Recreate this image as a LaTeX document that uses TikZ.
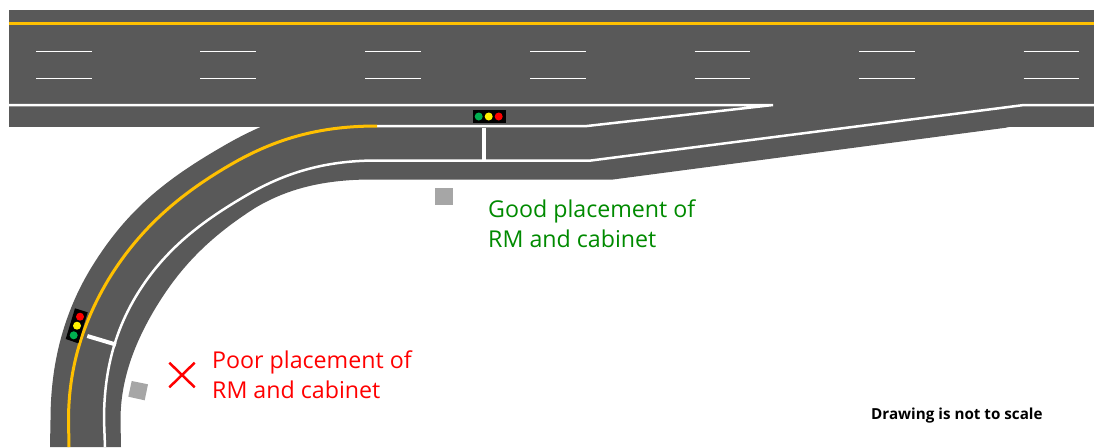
\documentclass[tikz,border=0pt]{standalone}
\usepackage{fontspec}
\setmainfont{Open Sans}
\definecolor{road}{HTML}{595959}
\definecolor{lane}{HTML}{FFC000}
\definecolor{cab}{HTML}{A6A6A6}
\definecolor{goodgreen}{HTML}{008A00}
\definecolor{lampgreen}{HTML}{00B050}
\tikzset{
  roadfill/.style={fill=road},
  yellowline/.style={draw=lane,line width=3pt},
  whiteline/.style={draw=white,line width=2.5pt},
  laneline/.style={draw=white,line width=1pt},
  stopbar/.style={draw=white,line width=4pt},
  cabinet/.style={fill=cab},
  lamp/.style={radius=4pt},
  label/.style={anchor=north west,align=left,inner sep=0pt,font=\fontsize{23.2}{30}\selectfont}
}
\begin{document}
\begin{tikzpicture}[x=1pt,y=-1pt]
\useasboundingbox (0,0) rectangle (1094,447);
% road surface
\fill[roadfill] (8.5,9.5) rectangle (1094,127.3);
\fill[roadfill] (1009,127.3) -- (613,179.5) -- (372,179.5)
  .. controls (328,179.5) and (290,187) .. (255,208)
  .. controls (208,238) and (180,268) .. (156.8,305.9)
  .. controls (131,348) and (120.5,385) .. (120.5,420)
  -- (121,447) -- (50,447) -- (50.5,420)
  .. controls (50.5,365) and (63,313.5) .. (92,266.5)
  .. controls (126,211.5) and (164,180.5) .. (220,148)
  .. controls (247,132) and (270,122) .. (300,112)
  -- cycle;
% centre line and lanes
\draw[yellowline] (8.5,23.5) -- (1094,23.5);
\foreach \x in {36.3,200,365,530,694.5,859.3,1023.7}
  \draw[laneline] (\x,51) -- +(55.5,0) (\x,78.3) -- +(55.5,0);
\draw[whiteline] (8.5,105) -- (773,105) -- (587,126) -- (377,126);
\draw[yellowline] (377,126)
  .. controls (322,126) and (277,137.5) .. (230,165)
  .. controls (180,194) and (140.5,228) .. (110,277)
  .. controls (83,321) and (68.5,368) .. (68.5,420)
  -- (69,447);
\draw[whiteline] (377,160.5)
  .. controls (329,160.5) and (288.4,170.8) .. (247.4,194.8)
  .. controls (201.8,221.3) and (165.2,248.9) .. (137.4,293.9)
  .. controls (113.4,333) and (104,374) .. (104,420)
  -- (105,447);
\draw[whiteline] (377,160.5) -- (591,160.5) -- (1024,105) -- (1094,105);
% stop bars
\coordinate (barA) at (483.5,128);
\coordinate (barB) at (483.5,160);
\draw[stopbar] (barA) -- (barB);
\coordinate (barC) at (87.3,336);
\coordinate (barD) at (116,344.6);
\draw[stopbar] (barC) -- (barD);
% signal heads
\fill[black] (473,110) rectangle (505.7,123);
\fill[lampgreen] (478.7,116.5) circle[lamp];
\fill[yellow] (488.7,116.5) circle[lamp];
\fill[red] (498.7,116.5) circle[lamp];
\fill[black] (75,308.3) -- (87.7,312.3) -- (78.3,343.3) -- (65.7,339) -- cycle;
\fill[red] (80,316.7) circle[lamp];
\fill[yellow] (77,325.7) circle[lamp];
\fill[lampgreen] (73.7,335.3) circle[lamp];
% cabinets
\fill[cabinet] (435.3,188) rectangle (452.7,205.3);
\fill[cabinet] (131.7,381) -- (148,384.3) -- (144.7,400.3) -- (128.3,396.7) -- cycle;
% cross
\draw[red,line width=2.5pt] (169.3,362.7) -- (194.7,387.3) (194.7,362.7) -- (169.3,387.3);
% labels
\node[label,text=goodgreen] (good) at (488,200) {Good placement of\\RM and cabinet};
\node[label,text=red] (poor) at (212,351) {Poor placement of\\RM and cabinet};
\node[anchor=base west,inner sep=0pt,font=\fontsize{15.2}{18}\selectfont\bfseries] (note) at (871,419.5) {Drawing is not to scale};
\end{tikzpicture}
\end{document}
